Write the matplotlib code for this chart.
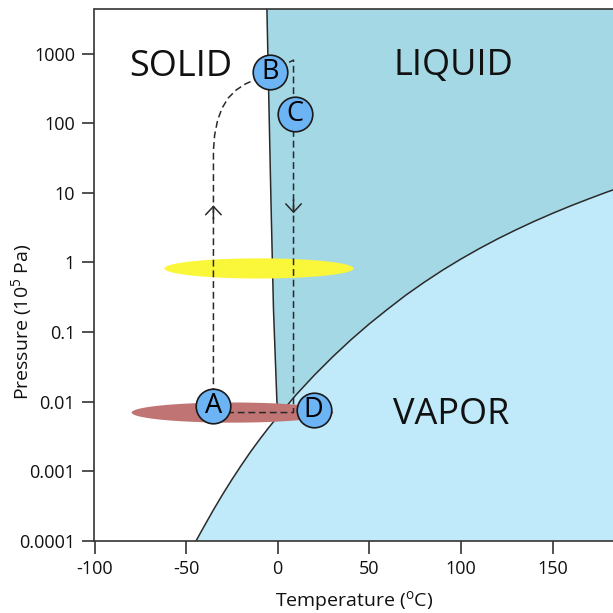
import numpy as np
import matplotlib
matplotlib.use("Agg")
import matplotlib.pyplot as plt

plt.rcParams['font.family'] = ['Open Sans', 'DejaVu Sans']
plt.rcParams['mathtext.fontset'] = 'custom'
plt.rcParams['mathtext.rm'] = 'Open Sans'

# ---------------- data ----------------
x_ticks = [-100, -50, 0, 50, 100, 150]
y_ticks = [0.0001, 0.001, 0.01, 0.1, 1, 10, 100, 1000]
y_tick_labels = ['0.0001', '0.001', '0.01', '0.1', '1', '10', '100', '1000']
x_range = (-100, 183)
y_range = (1e-4, 4400)

# vapor boundary (sublimation + vaporization), T in degC, P in 1e5 Pa
vap_T = [-44.5, -42, -40, -35, -30, -25, -20, -15, -10, -5, 0.3,
         10, 20, 30, 40, 50, 60, 70, 80, 90, 100, 110, 120, 130, 140,
         150, 160, 170, 180, 185]
vap_P = [1.0e-4, 1.32e-4, 1.64e-4, 2.80e-4, 4.66e-4, 7.57e-4, 1.20e-3,
         1.87e-3, 2.83e-3, 4.20e-3, 6.2e-3,
         0.0125, 0.0240, 0.0440, 0.0775, 0.131, 0.213, 0.340, 0.520, 0.775,
         1.12, 1.58, 2.18, 2.94, 3.90, 5.08, 6.52, 8.25, 10.35, 11.5]

# melting line
melt_T = [0.3, -0.44, -2.3, -3.7, -5.9]
melt_P = [6.2e-3, 0.01, 0.206, 7.9, 4400]

# state points
pt_labels = ['A', 'B', 'C', 'D']
pt_T = [-35.1, -4.26, 9.4, 19.6]
pt_P = [0.00875, 551, 134.6, 0.0076]

# path A -> B (dashed)
pathAB_T = [-35.1, -35.08, -34.43, -32.79, -30.33, -27.05, -22.68, -17.76, -12.84, -4.26]
pathAB_P = [0.00875, 41.3, 67.9, 111.5, 166, 231, 301, 367, 419, 551]

# path B -> C -> D -> A (dashed)
pathBA_T = [-4.26, 8.63, 8.63, -35.1]
pathBA_P = [551, 811, 0.00695, 0.00695]

# arrow heads on the paths (T, P, direction)
arrow_T = [-35.1, 8.63]
arrow_P = [6.63, 5.09]
arrow_dir = ['up', 'down']

# ellipses: center T, center P, width (degC), height (decades), color
ell_T = [-10.2, -24.7]
ell_P = [0.82, 0.00695]
ell_w = [103.3, 110.0]
ell_h = [0.29, 0.29]
ell_color = ['#FAF73A', '#C07474']

# region labels
region_labels = ['SOLID', 'LIQUID', 'VAPOR']
region_pos = [(0.1668, 0.891), (0.6914, 0.893), (0.6885, 0.2364)]

# ---------------- figure ----------------
fig = plt.figure(figsize=(6.13, 6.13), dpi=100)
ax = fig.add_axes([94.5 / 613, 1 - 540.7 / 613, 1 - 94.5 / 613, 531.7 / 613])
ax.set_yscale('log')
ax.set_xlim(*x_range)
ax.set_ylim(*y_range)

liquid_c = '#A5D8E5'
vapor_c = '#C0EAF9'
line_c = '#2a2a2a'

ytop = y_range[1]
ybot = y_range[0]

# vapor region
vx = list(vap_T) + [vap_T[-1], vap_T[0]]
vy = list(vap_P) + [ybot, ybot]
ax.fill(vx, vy, color=vapor_c, lw=0, zorder=1)

# liquid region: melting line up, across top, down right edge, back along vapor curve
i_tp = vap_T.index(0.3)
lx = list(melt_T) + [vap_T[-1]] + list(vap_T[::-1][:len(vap_T) - i_tp])
ly = list(melt_P) + [ytop] + list(vap_P[::-1][:len(vap_P) - i_tp])
ax.fill(lx, ly, color=liquid_c, lw=0, zorder=1)

# boundaries
ax.plot(vap_T, vap_P, color=line_c, lw=1.1, zorder=2)
ax.plot(melt_T, melt_P, color=line_c, lw=1.1, zorder=2)

# ellipses
t = np.linspace(0, 2 * np.pi, 200)
for cT, cP, w, h, c in zip(ell_T, ell_P, ell_w, ell_h, ell_color):
    ex = cT + w / 2 * np.cos(t)
    ey = 10 ** (np.log10(cP) + h / 2 * np.sin(t))
    ax.fill(ex, ey, color=c, lw=0, zorder=3)

# dashed paths
dash = dict(color=line_c, lw=1.1, ls=(0, (4.5, 2.5)), zorder=4)
ax.plot(pathAB_T, pathAB_P, **dash)
ax.plot(pathBA_T, pathBA_P, **dash)

for aT, aP, d in zip(arrow_T, arrow_P, arrow_dir):
    off = -10 if d == 'up' else 10
    ax.annotate('', xy=(aT, aP), xytext=(0, off), textcoords='offset points',
                arrowprops=dict(arrowstyle='->,head_length=0.3,head_width=0.28',
                                color=line_c, lw=1.1, mutation_scale=20,
                                shrinkA=0, shrinkB=0), zorder=5)

# state points
ax.scatter(pt_T, pt_P, s=620, color='#6CB4F4', edgecolor='#1a1a1a',
           linewidth=1.2, zorder=6)
for lab, T, P in zip(pt_labels, pt_T, pt_P):
    ax.text(T, P, lab, ha='center', va='center', fontsize=19.5,
            color='black', zorder=7)

# region labels
for lab, (px, py) in zip(region_labels, region_pos):
    ax.text(px, py, lab, transform=ax.transAxes, ha='center', va='center',
            fontsize=26, color='#111111', zorder=7)

# axes styling
ax.spines['right'].set_visible(False)
for s in ['left', 'bottom', 'top']:
    ax.spines[s].set_color('#333333')
    ax.spines[s].set_linewidth(1.2)
    ax.spines[s].set_zorder(8)

ax.set_xticks(x_ticks)
ax.set_xticklabels([str(v) for v in x_ticks])
ax.set_yticks(y_ticks)
ax.set_yticklabels(y_tick_labels)
ax.minorticks_off()
ax.tick_params(direction='out', length=9, width=1.2, color='#333333',
               labelsize=13, pad=5, labelcolor='#111111')

ax.set_xlabel('Temperature ($\\mathregular{^{o}}$C)', fontsize=14, color='#111111',
              va='center')
ax.xaxis.set_label_coords(0.5, -0.1125)
ax.set_ylabel('Pressure (10$\\mathregular{^{5}}$ Pa)', fontsize=14, color='#111111',
              va='center')
ax.yaxis.set_label_coords(-0.141, 0.411)

fig.savefig('out.png', dpi=100)
